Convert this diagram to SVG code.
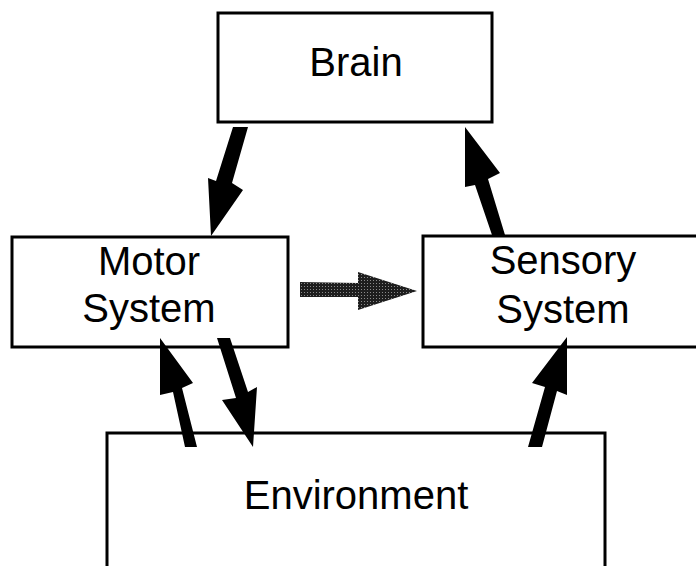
<svg xmlns="http://www.w3.org/2000/svg" width="696" height="566" viewBox="0 0 696 566">
  <style>
    .box { fill: #ffffff; stroke: #000000; stroke-width: 3; }
    .lbl { font-family: "Liberation Sans", Arial, Helvetica, sans-serif; font-size: 40px; fill: #000000; text-anchor: middle; }
    .arr { fill: #000000; stroke: none; }
    .garr { fill: url(#stipple); stroke: none; }
  </style>
  <defs>
    <pattern id="stipple" width="3" height="3" patternUnits="userSpaceOnUse">
      <rect width="3" height="3" fill="#1e1e1e"/>
      <rect x="1" y="1" width="1" height="1" fill="#8a8a8a"/>
    </pattern>
  </defs>
  <rect width="696" height="566" fill="#ffffff"/>

  <g id="brain">
    <rect class="box" x="218" y="13" width="274" height="109"/>
    <text class="lbl" x="356" y="76">Brain</text>
  </g>
  <g id="motor">
    <rect class="box" x="12" y="237" width="276" height="110"/>
    <text class="lbl" x="149" y="275">Motor</text>
    <text class="lbl" x="149" y="322">System</text>
  </g>
  <g id="sensory">
    <rect class="box" x="423" y="236" width="280" height="111"/>
    <text class="lbl" x="563" y="274">Sensory</text>
    <text class="lbl" x="563" y="323">System</text>
  </g>
  <g id="environment">
    <rect class="box" x="107" y="433" width="498" height="140"/>
    <text class="lbl" x="356" y="509">Environment</text>
  </g>

  <g id="connectors">
    <!-- Brain -> Motor -->
    <polygon class="arr" points="233,127 248,127 232,183 243,190 211,236 208,178 216,181"/>
    <!-- Sensory -> Brain -->
    <polygon class="arr" points="465,127 500,173 488,179 505,235 492,235 475,185 465,187"/>
    <!-- Motor -> Sensory (grey) -->
    <polygon class="garr" points="300,282 358,283 358,272 417,291 358,310 358,297 300,297"/>
    <!-- Environment -> Motor -->
    <polygon class="arr" points="160,338 193,383 182,388 197,447 185,447 173,392 160,395"/>
    <!-- Motor -> Environment -->
    <polygon class="arr" points="217,338 230,338 248,392 257,387 253,447 222,400 236,398"/>
    <!-- Environment -> Sensory -->
    <polygon class="arr" points="567,337 567,395 557,391 542,447 528,447 545,387 532,383"/>
  </g>
</svg>
